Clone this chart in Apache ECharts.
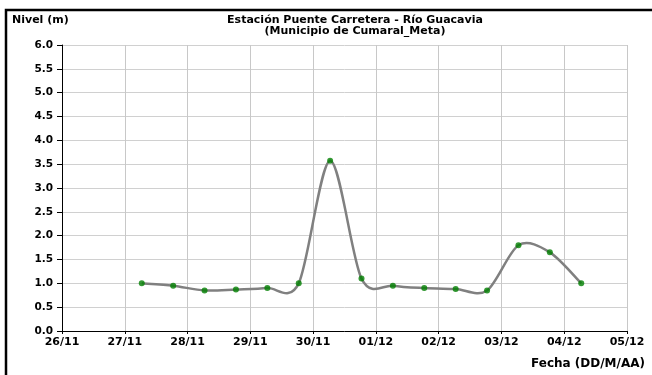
<!DOCTYPE html>
<html>
<head>
<meta charset="utf-8">
<script src="https://cdn.jsdelivr.net/npm/echarts@6/dist/echarts.min.js"></script>
<style>
html,body{margin:0;padding:0;background:#fff;}
#chart{width:652px;height:375px;}
</style>
</head>
<body>
<div id="chart"></div>
<script>
// Tick labels (one per day)
const tickLabels = ['26/11','27/11','28/11','29/11','30/11','01/12','02/12','03/12','04/12','05/12'];
// Observation times (dd/MM HH:mm)
const obsTimes = ['27/11 06:30','27/11 18:30','28/11 06:30','28/11 18:30','29/11 06:30','29/11 18:30',
                  '30/11 06:30','30/11 18:30','01/12 06:30','01/12 18:30','02/12 06:30','02/12 18:30',
                  '03/12 06:30','03/12 18:30','04/12 06:30'];
// Water level (m)
const levels = [1.0, 0.95, 0.85, 0.87, 0.9, 1.0, 3.57, 1.1, 0.95, 0.9, 0.88, 0.85, 1.8, 1.65, 1.0];

function toMs(s){
  const [d, t] = s.split(' ');
  const [dd, mm] = d.split('/').map(Number);
  const [hh, mi] = (t || '00:00').split(':').map(Number);
  return Date.UTC(2024, mm - 1, dd, hh, mi);
}
const t0 = toMs(tickLabels[0] + ' 00:00');
const seriesData = obsTimes.map((s, i) => [(toMs(s) - t0) / 86400000, levels[i]]);

// Smoothed line (Excel-style cardinal spline) drawn through the axis scales
function renderSmooth(params, api){
  if (params.dataIndex !== 0) return null;
  const pts = seriesData.map(d => api.coord(d));
  const n = pts.length;
  const k = 1 / 6.5;
  let path = 'M' + pts[0][0] + ' ' + pts[0][1];
  for (let i = 0; i < n - 1; i++){
    const p0 = pts[Math.max(i - 1, 0)], p1 = pts[i], p2 = pts[i + 1], p3 = pts[Math.min(i + 2, n - 1)];
    const c1x = p1[0] + (p2[0] - p0[0]) * k, c1y = p1[1] + (p2[1] - p0[1]) * k;
    const c2x = p2[0] - (p3[0] - p1[0]) * k, c2y = p2[1] - (p3[1] - p1[1]) * k;
    path += ' C' + c1x + ' ' + c1y + ' ' + c2x + ' ' + c2y + ' ' + p2[0] + ' ' + p2[1];
  }
  return {
    type:'path',
    shape:{pathData:path},
    style:{fill:'none', stroke:'#808080', lineWidth:2.5}
  };
}

const font = 'DejaVu Sans, Liberation Sans, Arial, sans-serif';
const chart = echarts.init(document.getElementById('chart'), null, {renderer:'canvas'});
chart.setOption({
  animation:false,
  backgroundColor:'#fff',
  graphic:[
    {type:'rect', shape:{x:6, y:10, width:700, height:400}, style:{fill:'none', stroke:'#000', lineWidth:2.5}, z:100}
  ],
  title:{
    text:'Estación Puente Carretera - Río Guacavia\n(Municipio de Cumaral_Meta)',
    left:350, top:10, textAlign:'center',
    textStyle:{fontFamily:font, fontSize:11, fontWeight:'bold', color:'#000', lineHeight:11}
  },
  grid:{left:62, right:25, top:45, bottom:44, containLabel:false},
  xAxis:{
    type:'value', min:0, max:tickLabels.length - 1, interval:1,
    name:'Fecha (DD/M/AA)', nameLocation:'end',
    nameTextStyle:{fontFamily:font, fontSize:12, fontWeight:'bold', color:'#000', align:'right', verticalAlign:'top', padding:[27,0,0,0]},
    nameGap:18,
    axisLine:{show:true, lineStyle:{color:'#000', width:1}},
    axisTick:{show:true, length:3, lineStyle:{color:'#000'}},
    axisLabel:{fontFamily:font, fontSize:11, fontWeight:'bold', color:'#000', margin:6,
      formatter:v => tickLabels[Math.round(v)] || ''},
    splitLine:{show:true, lineStyle:{color:'#c8c8c8', width:1}}
  },
  yAxis:{
    type:'value', min:0, max:6, interval:0.5,
    name:'Nivel (m)', nameLocation:'end',
    nameTextStyle:{fontFamily:font, fontSize:11, fontWeight:'bold', color:'#000', align:'left', padding:[0,0,0,-50]},
    nameGap:19,
    axisLine:{show:true, lineStyle:{color:'#000', width:1}},
    axisTick:{show:true, length:5, lineStyle:{color:'#000'}},
    axisLabel:{fontFamily:font, fontSize:10.5, fontWeight:'bold', color:'#000', margin:9,
      formatter:v => v.toFixed(1)},
    splitLine:{show:true, lineStyle:{color:'#d0d0d0', width:1}}
  },
  series:[
    {
      type:'custom', data:seriesData, renderItem:renderSmooth, clip:false, z:4,
      encode:{x:0, y:1}
    },
    {
      type:'scatter', data:seriesData,
      symbol:'circle', symbolSize:6,
      itemStyle:{color:'#008000', borderWidth:0},
      z:5
    }
  ]
});
</script>
</body>
</html>
